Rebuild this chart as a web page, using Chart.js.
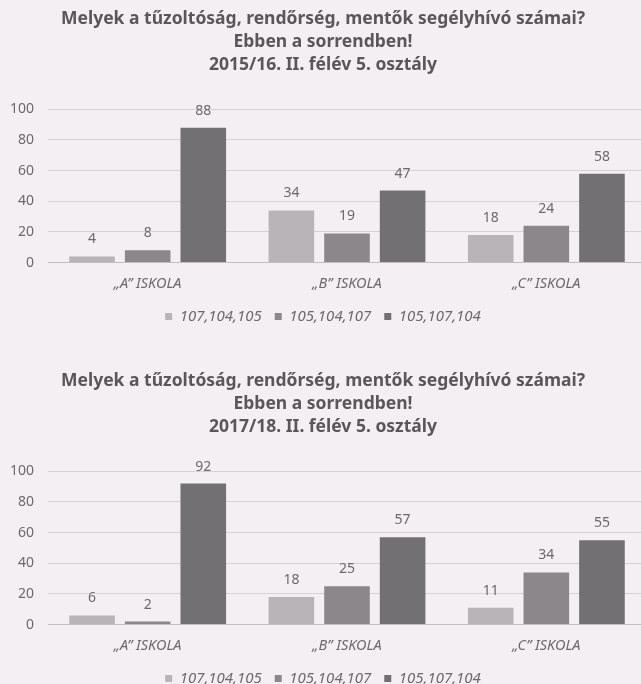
<!DOCTYPE html>
<html>
<head>
<meta charset="utf-8">
<script src="https://cdn.jsdelivr.net/npm/chart.js@4/dist/chart.umd.min.js"></script>
<style>
	html, body { margin: 0; padding: 0; background: #f4eff3; }
	#page { width: 641px; height: 684px; position: relative; overflow: hidden; }
	.box { position: absolute; left: 0; width: 646px; height: 334px; }
	#top-box { top: 0; }
	#bottom-box { top: 362px; }
</style>
</head>
<body>
<div id="page">
	<div class="box" id="top-box"><canvas id="chart-top"></canvas></div>
	<div class="box" id="bottom-box"><canvas id="chart-bottom"></canvas></div>
</div>
<script>
// Data
const schools = ["\u201eA\u201d ISKOLA", "\u201eB\u201d ISKOLA", "\u201eC\u201d ISKOLA"];
const seriesNames = ["107,104,105", "105,104,107", "105,107,104"];

const titleLine1 = "Melyek a tűzoltóság, rendőrség, mentők segélyhívó számai?";
const titleLine2 = "Ebben a sorrendben!";
const topYear = "2015/16. II. félév 5. osztály";
const bottomYear = "2017/18. II. félév 5. osztály";

const top107104105 = [4, 34, 18];
const top105104107 = [8, 19, 24];
const top105107104 = [88, 47, 58];

const bottom107104105 = [6, 18, 11];
const bottom105104107 = [2, 25, 34];
const bottom105107104 = [92, 57, 55];

const yTicks = [0, 20, 40, 60, 80, 100];

// Styling
const theme = {
	bars: ["#b9b4b8", "#8b878a", "#737073"],
	grid: "#d6d1d5",
	axis: "#c2bdc1",
	text: "#6d686c",
	title: "#5b5659",
	font: "'Noto Sans', 'Open Sans', sans-serif"
};

// draws the value above each bar
const valueLabels = {
	id: "valueLabels",
	afterDatasetsDraw(chart) {
		const ctx = chart.ctx;
		ctx.save();
		ctx.fillStyle = theme.text;
		ctx.font = `14px ${theme.font}`;
		ctx.textAlign = "center";
		ctx.textBaseline = "middle";
		chart.data.datasets.forEach((ds, i) => {
			chart.getDatasetMeta(i).data.forEach((bar, j) => {
				ctx.fillText(String(ds.data[j]), bar.x, bar.y - 17);
			});
		});
		ctx.restore();
	}
};

// legend items sit a bit further apart than labels.padding alone allows
function spacedLegendLabels(chart) {
	const items = Chart.defaults.plugins.legend.labels.generateLabels(chart);
	items.forEach((item, i) => {
		if (i < items.length - 1) item.text += "\u2002\u2009";
	});
	return items;
}

function buildChart(canvas, year, a, b, c) {
	const values = [a, b, c];
	return new Chart(canvas, {
		type: "bar",
		data: {
			labels: schools,
			datasets: seriesNames.map((name, i) => ({
				label: name,
				data: values[i],
				backgroundColor: theme.bars[i],
				borderWidth: 0,
				categoryPercentage: 0.837,
				barPercentage: 0.82
			}))
		},
		options: {
			responsive: true,
			maintainAspectRatio: false,
			animation: false,
			layout: { padding: 0 },
			plugins: {
				title: {
					display: true,
					text: [titleLine1, titleLine2, year],
					color: theme.title,
					font: { family: theme.font, size: 17.5, weight: "bold", lineHeight: 1.3 },
					padding: { top: 8, bottom: 33 }
				},
				legend: {
					position: "bottom",
					labels: {
						color: theme.text,
						font: { family: theme.font, size: 15, style: "italic" },
						boxWidth: 7,
						boxHeight: 7,
						padding: 3,
						generateLabels: spacedLegendLabels
					}
				},
				tooltip: { enabled: false }
			},
			scales: {
				x: {
					grid: { display: false, drawTicks: false },
					border: { color: theme.axis },
					ticks: {
						color: theme.text,
						font: { family: theme.font, size: 14.5, style: "italic" },
						padding: 13
					}
				},
				y: {
					min: 0,
					max: 100,
					afterBuildTicks: (axis) => { axis.ticks = yTicks.map((v) => ({ value: v })); },
					afterFit: (axis) => { axis.width = 48; },
					grid: { color: theme.grid, drawTicks: false },
					border: { display: false },
					ticks: {
						color: theme.text,
						font: { family: theme.font, size: 14 },
						padding: 14
					}
				}
			}
		},
		plugins: [valueLabels]
	});
}

buildChart(document.getElementById("chart-top"), topYear, top107104105, top105104107, top105107104);
buildChart(document.getElementById("chart-bottom"), bottomYear, bottom107104105, bottom105104107, bottom105107104);
</script>
</body>
</html>
